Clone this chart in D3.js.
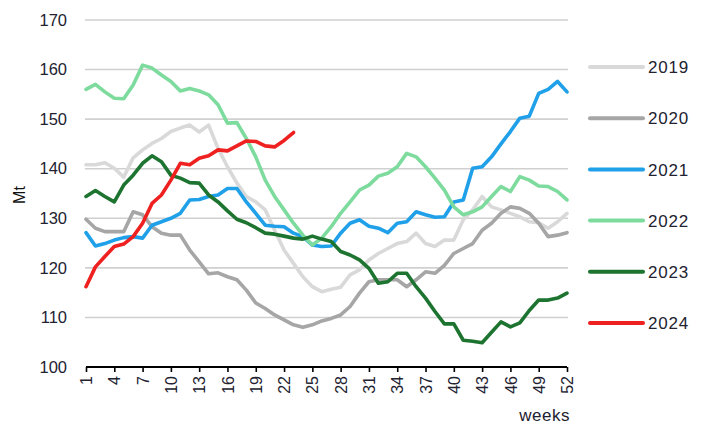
<!DOCTYPE html>
<html>
<head>
<meta charset="utf-8">
<script src="https://cdn.jsdelivr.net/npm/d3@7"></script>
<style>
  html, body { margin: 0; padding: 0; background: #ffffff; }
  svg { display: block; font-family: "Liberation Sans", Arial, sans-serif; }
</style>
</head>
<body>
<svg id="chart" width="706" height="425"></svg>
<script>
// ---- data ----
const weeks = d3.range(1, 53);
const seriesNames = ["2019", "2020", "2021", "2022", "2023", "2024"];
const v2019 = [140.8,140.8,141.2,140.1,138.3,142.2,143.8,145.1,146.1,147.5,148.2,148.8,147.4,148.8,144.1,140.4,137.1,134.4,133.3,131.7,127.6,123.6,120.9,118.2,116.2,115.2,115.7,116.1,118.6,119.6,121.6,122.9,123.9,124.9,125.3,127.0,124.9,124.3,125.6,125.6,129.7,131.7,134.4,132.3,131.7,131.0,130.3,129.3,129.1,128.0,129.3,131.0];
const v2020 = [129.8,128.0,127.3,127.3,127.3,131.3,130.7,128.3,127.0,126.6,126.6,123.6,121.2,118.8,119.0,118.2,117.6,115.5,112.9,111.8,110.5,109.5,108.5,108.0,108.5,109.3,109.8,110.5,112.2,114.9,117.2,117.6,117.6,117.6,116.2,117.6,119.2,118.9,120.5,122.9,123.9,124.9,127.6,129.0,131.0,132.3,132.0,131.0,129.0,126.3,126.6,127.1];
const v2021 = [127.1,124.4,124.9,125.6,126.1,126.3,126.0,128.6,129.3,130.0,131.0,133.7,133.8,134.4,134.7,136.0,136.0,133.3,131.0,128.6,128.4,128.3,127.0,126.3,124.6,124.3,124.4,127.0,129.0,129.7,128.4,128.0,127.1,129.0,129.3,131.3,130.7,130.2,130.3,133.3,133.7,140.1,140.4,142.4,145.0,147.5,150.2,150.6,155.2,156.0,157.6,155.5];
const v2022 = [156.0,157.0,155.5,154.2,154.1,156.9,160.9,160.3,158.9,157.6,155.7,156.2,155.7,154.9,152.9,149.2,149.3,146.1,142.4,137.7,134.4,131.7,129.0,126.6,124.6,126.0,128.3,131.0,133.3,135.7,136.7,138.5,139.1,140.4,143.1,142.4,140.4,138.1,135.7,132.3,130.7,131.3,132.3,134.4,136.4,135.4,138.4,137.7,136.5,136.4,135.4,133.7];
const v2023 = [134.4,135.6,134.4,133.3,136.7,138.7,141.1,142.6,141.4,138.7,138.1,137.2,137.1,134.7,133.3,131.5,129.8,129.1,128.1,127.0,126.8,126.4,126.0,125.8,126.4,125.8,125.3,123.3,122.6,121.6,119.9,116.9,117.2,118.9,118.9,116.2,113.9,111.2,108.7,108.7,105.4,105.2,104.9,107.0,109.1,108.1,108.9,111.4,113.5,113.5,113.9,114.9];
const v2024 = [116.2,120.2,122.3,124.3,124.8,126.3,129.0,133.0,134.7,137.7,141.1,140.8,142.1,142.6,143.8,143.6,144.6,145.6,145.5,144.6,144.4,145.7,147.3];
const seriesValues = [v2019, v2020, v2021, v2022, v2023, v2024];
const yTicks = [100, 110, 120, 130, 140, 150, 160, 170];
const xTicks = d3.range(1, 53, 3);
const yTitle = "Mt";
const xTitle = "weeks";

// ---- styles ----
const colors = ["#d9d9d9", "#a6a6a6", "#1fa0e8", "#7ddb9d", "#1d7430", "#ee2020"];
const textColor = "#222230";

const svg = d3.select("#chart");
const x = d3.scaleLinear().domain([1, 52]).range([86, 567]);
const y = d3.scaleLinear().domain([100, 170]).range([367, 20]);

// gridlines
svg.append("g").selectAll("line")
  .data(yTicks.filter(t => t > 100))
  .join("line")
  .attr("x1", 85).attr("x2", 568)
  .attr("y1", d => y(d)).attr("y2", d => y(d))
  .attr("stroke", "#d0d0d0").attr("stroke-width", 1.6);

// y axis labels
const yAxis = svg.append("g").attr("transform", "translate(70,0)")
  .call(d3.axisLeft(y).tickValues(yTicks).tickSize(0).tickPadding(3));
yAxis.select(".domain").remove();
yAxis.selectAll("text")
  .attr("font-size", 16.5).attr("fill", textColor)
  .attr("font-family", "Liberation Sans, Arial, sans-serif");

// x axis
const xAxis = svg.append("g").attr("transform", `translate(0,${y(100)})`)
  .call(d3.axisBottom(x).tickValues(xTicks).tickSize(5));
xAxis.select(".domain").attr("stroke", "#000").attr("stroke-width", 2)
  .attr("d", `M${x(1)},0H${x(52)}`);
xAxis.selectAll(".tick line").attr("stroke", "#000").attr("stroke-width", 1.6);
xAxis.selectAll("text")
  .attr("font-size", 16).attr("fill", textColor)
  .attr("font-family", "Liberation Sans, Arial, sans-serif")
  .attr("transform", "rotate(-90)")
  .attr("x", -9).attr("y", 0).attr("dy", "0.35em")
  .attr("text-anchor", "end");

// lines
const line = d3.line()
  .x((d, i) => x(weeks[i]))
  .y(d => y(d));
svg.append("g").selectAll("path")
  .data(seriesValues)
  .join("path")
  .attr("d", d => line(d))
  .attr("fill", "none")
  .attr("stroke", (d, i) => colors[i])
  .attr("stroke-width", 3.6)
  .attr("stroke-linejoin", "round")
  .attr("stroke-linecap", "round");

// axis titles
svg.append("text")
  .attr("transform", "translate(25,195) rotate(-90)")
  .attr("text-anchor", "middle")
  .attr("font-size", 16).attr("fill", "#111")
  .text(yTitle);
svg.append("text")
  .attr("x", 570).attr("y", 421)
  .attr("text-anchor", "end")
  .attr("font-size", 17).attr("letter-spacing", 0.5).attr("fill", textColor)
  .text(xTitle);

// legend
const legend = svg.append("g").selectAll("g")
  .data(seriesNames)
  .join("g")
  .attr("transform", (d, i) => `translate(0,${67 + i * 51.2})`);
legend.append("line")
  .attr("x1", 590).attr("x2", 643).attr("y1", 0).attr("y2", 0)
  .attr("stroke", (d, i) => colors[i])
  .attr("stroke-width", 4).attr("stroke-linecap", "round");
legend.append("text")
  .attr("x", 648).attr("y", 0).attr("dy", "0.36em")
  .attr("font-size", 17).attr("letter-spacing", 0.8).attr("fill", textColor)
  .text(d => d);
</script>
</body>
</html>
